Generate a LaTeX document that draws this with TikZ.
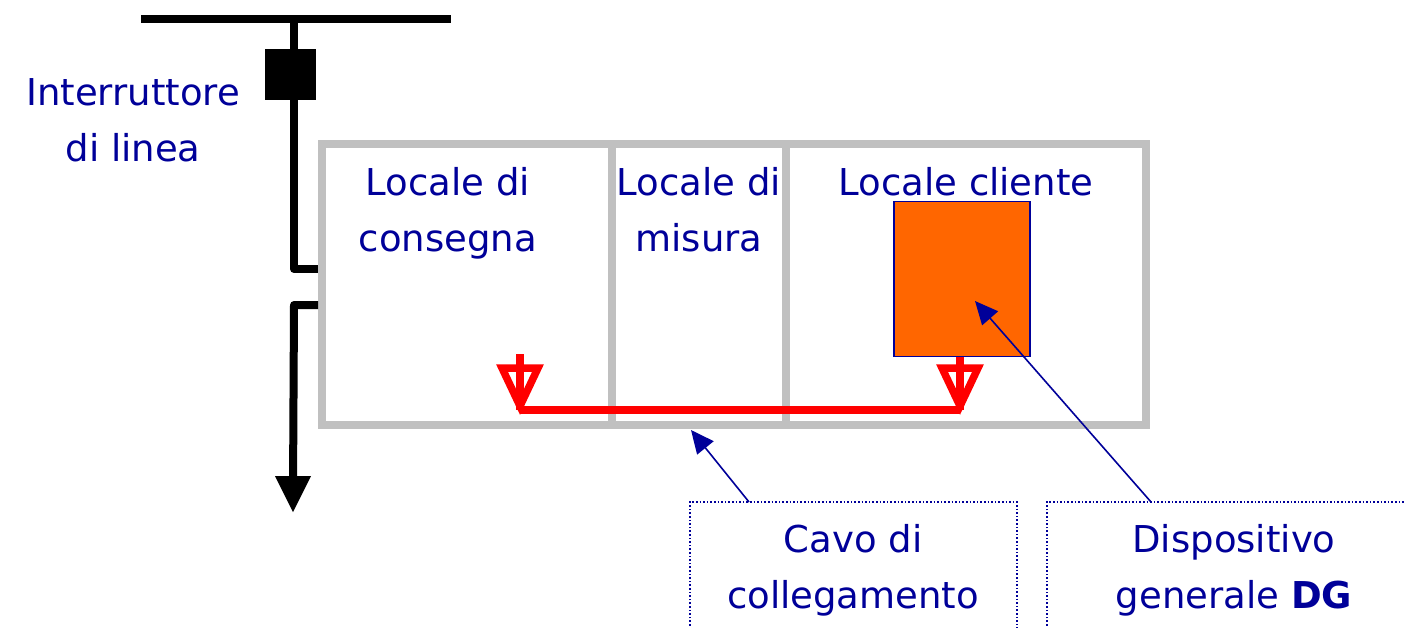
\documentclass[tikz,border=0pt]{standalone}
\usepackage{fontspec}
\setmainfont{DejaVu Sans}
\usetikzlibrary{arrows.meta}
\definecolor{navy}{RGB}{0,0,153}
\definecolor{wall}{RGB}{192,192,192}
\definecolor{dgorange}{RGB}{255,102,0}
\definecolor{cablered}{RGB}{255,0,0}
\tikzset{
  x=1pt,y=-1pt,
  lab/.style={text=navy,font=\fontsize{37}{56}\selectfont,align=center,inner sep=0pt,anchor=center},
  wallline/.style={draw=wall,line width=8pt},
  busline/.style={draw=black,line width=8pt},
  cable/.style={draw=cablered,line width=8pt},
  pointer/.style={draw=navy,line width=1.6pt,-{Triangle[length=23pt,width=21pt]}},
  dotbox/.style={draw=navy,line width=1.6pt,dotted}
}
\begin{document}
\begin{tikzpicture}
\useasboundingbox (0,0) rectangle (1404,627);
\clip (0,0) rectangle (1404,627);
% coordinates
\coordinate (busL) at (141,19);
\coordinate (busR) at (451,19);
\coordinate (busT) at (294,19);
\coordinate (lineA) at (294,269);
\coordinate (stubA) at (318,269);
\coordinate (stubB) at (318,305);
\coordinate (lineB) at (294,305);
\coordinate (lineEnd) at (293,512);
\coordinate (leftAnt) at (520,354);
\coordinate (leftCorner) at (520,410);
\coordinate (rightCorner) at (960,410);
\coordinate (cavoTop) at (749,502);
\coordinate (cavoTip) at (691,430);
\coordinate (dgTop) at (1151,502);
\coordinate (dgTip) at (975,301);
% building
\draw[wallline] (322,144) rectangle (1146,425);
\draw[wallline] (612,144) -- (612,425);
\draw[wallline] (786,144) -- (786,425);
% line
\draw[busline] (busL) -- (busR);
\draw[busline,line join=round] (busT) -- (lineA) -- (stubA);
\draw[busline,line join=round] (stubB) -- (lineB) -- (293,490);
\node[fill=black,draw=none,minimum width=51pt,minimum height=51pt,inner sep=0pt] (breaker) at (290,74) {};
\fill[black] (275,476) -- (311,476) -- (293,512) -- cycle;
% DG box
\node[fill=dgorange,draw=navy,line width=1.6pt,minimum width=136pt,minimum height=155pt,inner sep=0pt] (dg) at (962,279) {};
% red cable
\draw[cable] (leftAnt) -- (leftCorner);
\draw[cable] (leftCorner) -- (rightCorner);
\draw[cable] (dg.south -| rightCorner) -- (rightCorner);
\draw[draw=cablered,line width=7.5pt,miter limit=10] (520,406) -- (502,368) -- (538,368) -- cycle;
\draw[draw=cablered,line width=7.5pt,miter limit=10] (960,406) -- (942,368) -- (978,368) -- cycle;
% labels
\node[lab] (tInt) at (133,120) {Interruttore\\di linea};
\node[lab] (tCons) at (448,213) {Locale di\\consegna};
\node[lab] (tMis) at (699,210) {Locale di\\misura};
\node[lab] (tCli) at (966,182) {Locale cliente};
\node[lab] (tCavo) at (853,570) {Cavo di\\collegamento};
\node[lab] (tDG) at (1234,570) {Dispositivo\\generale \textbf{DG}};
% callout boxes (run off the lower edge)
\draw[dotbox] (690,640) -- (690,502) -- (1017,502) -- (1017,640);
\draw[dotbox] (1047,640) -- (1047,502) -- (1404,502);
\draw[pointer] (cavoTop) -- (cavoTip);
\draw[pointer] (dgTop) -- (dgTip);
\end{tikzpicture}
\end{document}
